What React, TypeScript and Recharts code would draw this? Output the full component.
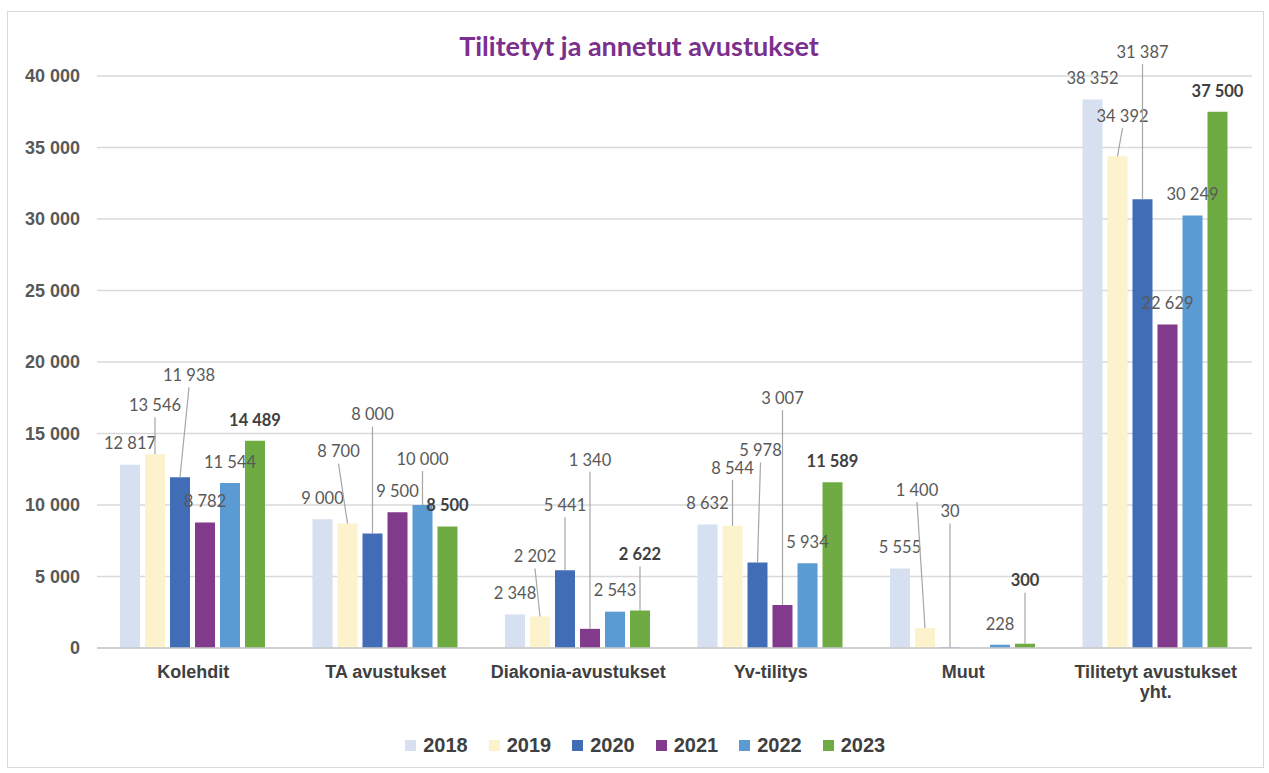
import React from "react";
import { BarChart, Bar, XAxis, YAxis, CartesianGrid, LabelList, Legend } from "recharts";

// ---- data ----
const categories = [
  "Kolehdit",
  "TA avustukset",
  "Diakonia-avustukset",
  "Yv-tilitys",
  "Muut",
  "Tilitetyt avustukset yht.",
];
const years = ["2018", "2019", "2020", "2021", "2022", "2023"];
const values2018 = [12817, 9000, 2348, 8632, 5555, 38352];
const values2019 = [13546, 8700, 2202, 8544, 1400, 34392];
const values2020 = [11938, 8000, 5441, 5978, 30, 31387];
const values2021: (number | null)[] = [8782, 9500, 1340, 3007, null, 22629];
const values2022 = [11544, 10000, 2543, 5934, 228, 30249];
const values2023 = [14489, 8500, 2622, 11589, 300, 37500];
const yTicks = [0, 5000, 10000, 15000, 20000, 25000, 30000, 35000, 40000];

const seriesValues = [values2018, values2019, values2020, values2021, values2022, values2023];

// ---- styles ----
const colors = ["#D6E0F0", "#FCF2CB", "#416DB7", "#813A8C", "#5B9BD4", "#6EAC43"];
const boldLabels = [false, false, false, false, false, true];
// label displacement [dx, rise above bar top] in px (callout labels)
const D: [number, number] = [0, 21];
const labelShift: [number, number][][] = [
  [D, D, D, D, D, D],
  [[0, 49], [-9, 72], [-5, 60], [0, 58], [-8, 138], [5, 40]],
  [[9, 102], [0, 119], [0, 65], [3, 112], [0, 136], [0, 147]],
  [D, D, [0, 169], [0, 207], D, [20, 21]],
  [D, [0, 46], D, D, D, D],
  [D, D, [0, 56], D, [0, 63], D],
];

const data = categories.map((c, i) => {
  const row: Record<string, any> = { name: c };
  years.forEach((y, s) => {
    row[y] = seriesValues[s][i];
  });
  return row;
});

const fmt = (v: number) => String(v).replace(/\B(?=(\d{3})+(?!\d))/g, " ");

const makeLabel = (s: number) => (props: any) => {
  const { x, y, width, value, index } = props;
  if (value === null || value === undefined) return null;
  const [dx, rise] = labelShift[s][index] || D;
  const cx = Number(x) + Number(width) / 2;
  const top = Number(y);
  const ly = top - rise;
  const lx = cx + dx;
  const callout = rise > 32;
  return (
    <g>
      {callout && (
        <line x1={lx} y1={ly + 12} x2={cx} y2={top} stroke="#A6A6A6" strokeWidth={1.2} />
      )}
      <text
        x={lx}
        y={ly}
        dy="0.35em"
        textAnchor="middle"
        fontFamily="Lato, 'Open Sans', sans-serif"
        fontSize={16.5}
        fontWeight={boldLabels[s] ? 700 : 400}
        fill={boldLabels[s] ? "#404040" : "#595959"}
      >
        {fmt(value)}
      </text>
    </g>
  );
};

const wrapWords = (t: string, maxChars: number) => {
  const words = t.split(" ");
  const lines: string[] = [];
  let cur = "";
  words.forEach((w) => {
    const next = cur ? cur + " " + w : w;
    if (next.length > maxChars && cur) {
      lines.push(cur);
      cur = w;
    } else cur = next;
  });
  if (cur) lines.push(cur);
  return lines;
};

const CatTick = (props: any) => {
  const { x, y, payload } = props;
  const lines = wrapWords(String(payload.value), 20);
  return (
    <g>
      {lines.map((l, i) => (
        <text
          key={i}
          x={x}
          y={Number(y) + 24 + i * 20}
          dy="0.35em"
          textAnchor="middle"
          fontFamily="'Liberation Sans', Arial, sans-serif"
          fontSize={18}
          fontWeight={700}
          fill="#404040"
        >
          {l}
        </text>
      ))}
    </g>
  );
};

const renderLegend = () => (
  <div
    style={{
      width: 1269,
      height: 30,
      display: "flex",
      justifyContent: "center",
      alignItems: "center",
      paddingLeft: 23,
      boxSizing: "border-box",
    }}
  >
    {years.map((y, i) => (
      <div
        key={y}
        style={{
          display: "flex",
          alignItems: "center",
          width: i < years.length - 1 ? 83.5 : 64,
        }}
      >
        <div style={{ width: 11, height: 11, background: colors[i], marginRight: 7 }} />
        <span
          style={{
            fontFamily: "'Liberation Sans', Arial, sans-serif",
            fontSize: 20,
            fontWeight: 700,
            color: "#404040",
            lineHeight: "20px",
          }}
        >
          {y}
        </span>
      </div>
    ))}
  </div>
);

export default function App() {
  return (
    <div style={{ position: "absolute", left: 0, top: 0, width: 1269, height: 773, background: "#fff" }}>
      <div
        style={{
          position: "absolute",
          left: 7,
          top: 11,
          width: 1257,
          height: 757,
          border: "1px solid #D9D9D9",
          boxSizing: "border-box",
        }}
      />
      <div
        style={{
          position: "absolute",
          left: 0,
          top: 29,
          width: 1278,
          textAlign: "center",
          fontFamily: "Lato, 'Open Sans', sans-serif",
          fontWeight: 700,
          fontSize: 27,
          lineHeight: "34px",
          color: "#7B2F8E",
        }}
      >
        Tilitetyt ja annetut avustukset
      </div>
      <div style={{ position: "absolute", left: 0, top: 0 }}>
        <BarChart
          width={1269}
          height={773}
          data={data}
          margin={{ top: 76, right: 17, bottom: 13, left: 0 }}
          barCategoryGap={23}
          barGap={5}
        >
          <CartesianGrid vertical={false} stroke="#D9D9D9" strokeWidth={1.3} />
          <XAxis
            dataKey="name"
            tick={<CatTick />}
            tickLine={false}
            tickSize={0}
            tickMargin={0}
            height={82}
            interval={0}
            axisLine={{ stroke: "#C8C8C8", strokeWidth: 1.5 }}
          />
          <YAxis
            width={97}
            domain={[0, 40000]}
            ticks={yTicks}
            tickFormatter={fmt}
            axisLine={false}
            tickLine={false}
            tickSize={0}
            tickMargin={17}
            tick={{
              fontFamily: "'Liberation Sans', Arial, sans-serif",
              fontSize: 18,
              fontWeight: 700,
              fill: "#595959",
            }}
            interval={0}
          />
          <Legend verticalAlign="bottom" content={renderLegend} wrapperStyle={{ left: 0, width: 1269, bottom: 13 }} />
          {years.map((y, s) => (
            <Bar key={y} dataKey={y} fill={colors[s]} isAnimationActive={false}>
              <LabelList dataKey={y} content={makeLabel(s)} />
            </Bar>
          ))}
        </BarChart>
      </div>
    </div>
  );
}
